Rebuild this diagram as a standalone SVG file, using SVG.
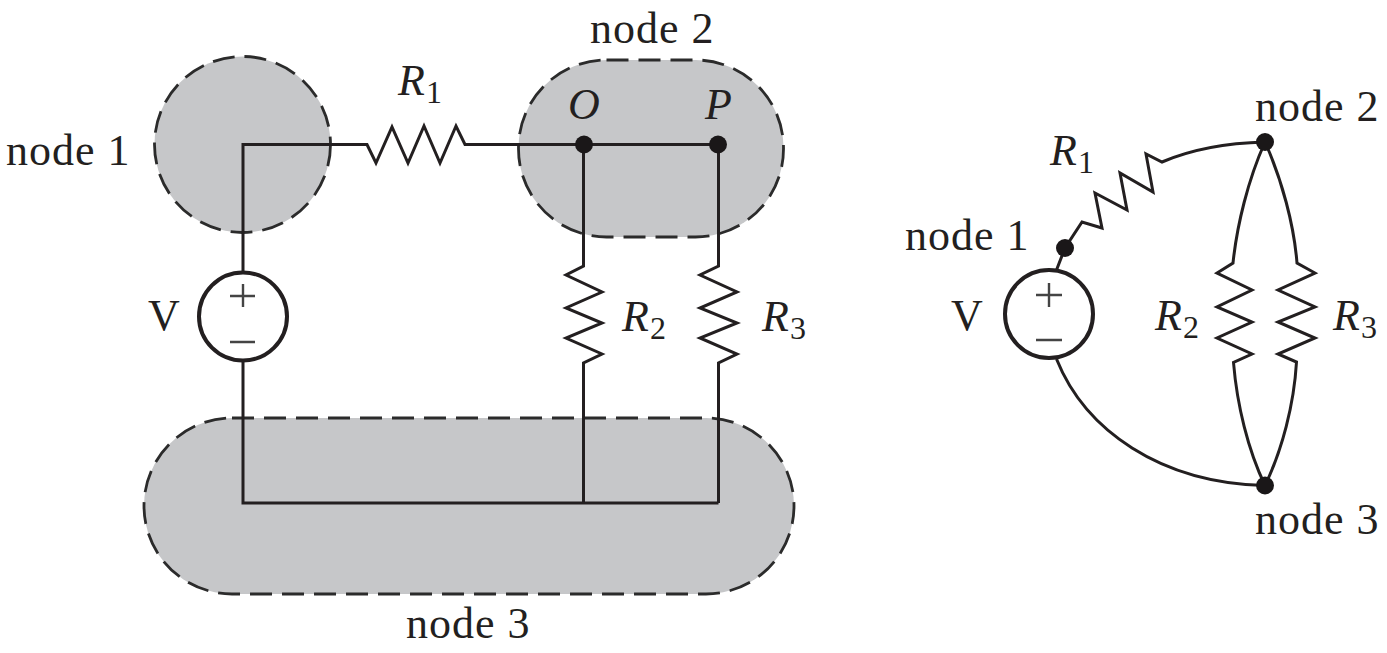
<svg xmlns="http://www.w3.org/2000/svg" width="1387" height="653" viewBox="0 0 1387 653">
<style>
.region{fill:#c6c7c9;stroke:#2b2b2b;stroke-width:2.8;stroke-dasharray:22 10}
.w{fill:none;stroke:#231f20;stroke-width:3;stroke-linejoin:miter}
.dot{fill:#1a1718}
.src{fill:#fff;stroke:#231f20;stroke-width:4}
.sym{fill:none;stroke:#444;stroke-width:2.4}
text{font-family:"Liberation Serif","Times New Roman",serif;fill:#231f20;font-size:44px}
.n{letter-spacing:1px}
.i{font-style:italic}
.s{font-size:32px;font-style:normal}
</style>
<rect width="1387" height="653" fill="#fff"/>
<g id="region-node1"><circle class="region" cx="242.500" cy="144.500" r="88"/></g>
<g id="region-node2"><rect class="region" x="518.500" y="60" width="265" height="177" rx="88" ry="88"/></g>
<g id="region-node3"><rect class="region" x="144" y="418" width="650" height="176" rx="88" ry="88"/></g>
<g id="connectors">
<path class="w" d="M243 272V144.500H367L376 163L392 127L408 163L424 126L440 163L456 126L465 144.500H584"/>
<path class="w" d="M584 144.500H718"/>
<path class="w" d="M583.500 144V266L566 275L602 292L566 308L602 323L566 338L602 354L583.500 363V503"/>
<path class="w" d="M718.500 144V266L700 275L737 292L700 308L737 323L700 338L737 354L718.500 363V503"/>
<path class="w" d="M243 360V503H718.500"/>
<path class="w" d="M1056.500 270L1065 248L1082 222L1102 228L1095 193L1127 210L1120 173L1153 192L1146 154L1162 162C1190 150 1225 143 1265 142"/>
<path class="w" d="M1265 142C1248 180 1237 225 1233 263L1217 273L1252 290L1217 307L1252 322L1217 338L1252 354L1233.500 362.500C1237 405 1248 450 1265 485.500"/>
<path class="w" d="M1265 142C1282 180 1294 225 1297 263L1315 273L1278 290L1315 307L1278 322L1315 338L1278 354L1296.500 362C1294 405 1282 450 1265 485.500"/>
<path class="w" d="M1056.500 359C1085 430 1160 483 1265 485.500"/>
</g>
<g id="source-left"><circle class="src" cx="243" cy="316.500" r="44"/><path class="sym" d="M243 284V307M230 296H255M230 342H255"/></g>
<g id="source-right"><circle class="src" cx="1049" cy="314" r="44"/><path class="sym" d="M1049 283V307M1036 295H1062M1036 340H1062"/></g>
<g id="dot-O"><circle class="dot" cx="584" cy="144.500" r="9"/></g>
<g id="dot-P"><circle class="dot" cx="718" cy="144.500" r="9"/></g>
<g id="dot-n1"><circle class="dot" cx="1065" cy="248" r="9"/></g>
<g id="dot-n2"><circle class="dot" cx="1265" cy="142" r="9"/></g>
<g id="dot-n3"><circle class="dot" cx="1265" cy="485.500" r="9"/></g>
<g id="labels">
<text class="n" x="6" y="165">node 1</text>
<text class="n" x="590" y="43">node 2</text>
<text class="n" x="406" y="638">node 3</text>
<text class="i" x="398" y="95">R<tspan class="s" dx="1" dy="8">1</tspan></text>
<text class="i" x="568" y="119">O</text>
<text class="i" x="705" y="119">P</text>
<text x="148" y="330">V</text>
<text class="i" x="622" y="331">R<tspan class="s" dx="1" dy="8">2</tspan></text>
<text class="i" x="762" y="331">R<tspan class="s" dx="1" dy="8">3</tspan></text>
<text class="n" x="905" y="250">node 1</text>
<text class="n" x="1255" y="121">node 2</text>
<text class="n" x="1255" y="534">node 3</text>
<text class="i" x="1050" y="165">R<tspan class="s" dx="1" dy="8">1</tspan></text>
<text x="951" y="330">V</text>
<text class="i" x="1155" y="330">R<tspan class="s" dx="1" dy="8">2</tspan></text>
<text class="i" x="1333" y="330">R<tspan class="s" dx="1" dy="8">3</tspan></text>
</g>
</svg>
